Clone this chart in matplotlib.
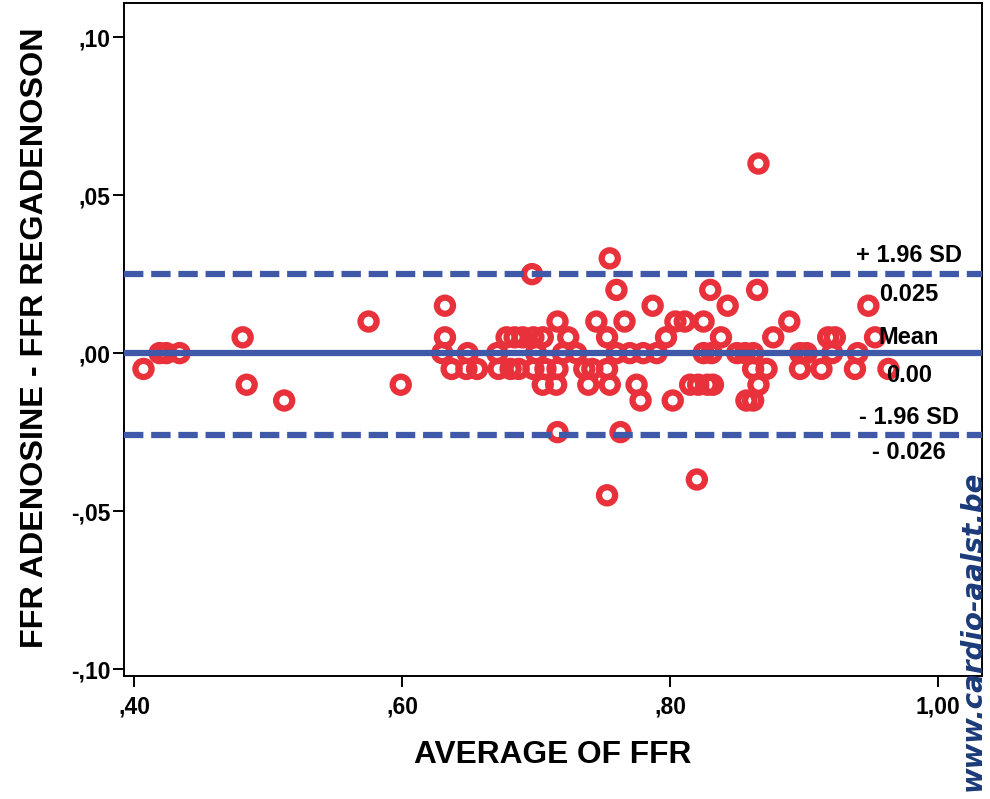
import matplotlib
matplotlib.use("Agg")
import matplotlib.pyplot as plt

# Average of the two FFR measurements (x) and their difference (y)
ffr_avg = [0.407, 0.419, 0.424, 0.434, 0.481, 0.484, 0.512, 0.575, 0.599,
           0.632, 0.632, 0.630, 0.637, 0.649, 0.648, 0.656, 0.671, 0.672,
           0.678, 0.684, 0.690, 0.681, 0.687, 0.698, 0.707, 0.716, 0.700,
           0.698, 0.705, 0.716, 0.724, 0.730, 0.736, 0.742, 0.745, 0.705,
           0.715, 0.739, 0.697, 0.716, 0.866, 0.755, 0.760, 0.787, 0.766,
           0.753, 0.797, 0.804, 0.811, 0.825, 0.830, 0.843, 0.838, 0.865,
           0.877, 0.889, 0.760, 0.770, 0.780, 0.790, 0.825, 0.831, 0.850,
           0.856, 0.862, 0.753, 0.862, 0.872, 0.755, 0.775, 0.815, 0.821,
           0.828, 0.832, 0.866, 0.778, 0.802, 0.857, 0.862, 0.763, 0.820,
           0.753, 0.948, 0.953, 0.918, 0.923, 0.897, 0.902, 0.921, 0.940,
           0.897, 0.913, 0.938, 0.963, 0.720]
ffr_diff = [-0.005, 0.0, 0.0, 0.0, 0.005, -0.01, -0.015, 0.01, -0.01,
            0.015, 0.005, 0.0, -0.005, 0.0, -0.005, -0.005, 0.0, -0.005,
            0.005, 0.005, 0.005, -0.005, -0.005, -0.005, -0.005, -0.005, 0.0,
            0.005, 0.005, 0.01, 0.005, 0.0, -0.005, -0.005, 0.01, -0.01,
            -0.01, -0.01, 0.025, -0.025, 0.06, 0.03, 0.02, 0.015, 0.01,
            0.005, 0.005, 0.01, 0.01, 0.01, 0.02, 0.015, 0.005, 0.02,
            0.005, 0.01, 0.0, 0.0, 0.0, 0.0, 0.0, 0.0, 0.0,
            0.0, 0.0, -0.005, -0.005, -0.005, -0.01, -0.01, -0.01, -0.01,
            -0.01, -0.01, -0.01, -0.015, -0.015, -0.015, -0.015, -0.025, -0.04,
            -0.045, 0.015, 0.005, 0.005, 0.005, 0.0, 0.0, 0.0, 0.0,
            -0.005, -0.005, -0.005, -0.005, 0.0]

mean_diff = 0.0
upper_loa = 0.025
lower_loa = -0.026

x_ticks = [0.40, 0.60, 0.80, 1.00]
x_tick_labels = [',40', ',60', ',80', '1,00']
y_ticks = [-0.10, -0.05, 0.0, 0.05, 0.10]
y_tick_labels = ['-,10', '-,05', ',00', ',05', ',10']

plt.rcParams['font.family'] = ['Liberation Sans', 'DejaVu Sans']
plt.rcParams['font.weight'] = 'bold'

fig = plt.figure(figsize=(9.9, 7.99), dpi=100)
ax = fig.add_axes([0.1253, 0.1539, 0.8666, 0.8423])

red = '#E8313B'
blue = '#3F58A8'

ax.scatter(ffr_avg, ffr_diff, s=135, facecolors='none', edgecolors=red,
           linewidths=4.5, zorder=2)

ax.axhline(mean_diff, color=blue, linewidth=4.5, zorder=3)
for lim in (upper_loa, lower_loa):
    ax.axhline(lim, color=blue, linewidth=4.5, dashes=(3.1, 1.25), zorder=3)

# Labels for the limits of agreement
tx = 0.9784
ax.text(tx, 0.0310, '+ 1.96 SD', ha='center', va='center', fontsize=17)
ax.text(tx, 0.0184, '0.025', ha='center', va='center', fontsize=17)
ax.text(tx, 0.0051, 'Mean', ha='center', va='center', fontsize=17)
ax.text(tx, -0.0070, '0.00', ha='center', va='center', fontsize=17)
ax.text(tx, -0.0203, '- 1.96 SD', ha='center', va='center', fontsize=17)
ax.text(tx, -0.0316, '- 0.026', ha='center', va='center', fontsize=17)

ax.set_xlim(0.3925, 1.0328)
ax.set_ylim(-0.1022, 0.1108)
ax.set_xticks(x_ticks)
ax.set_xticklabels(x_tick_labels)
ax.set_yticks(y_ticks)
ax.set_yticklabels(y_tick_labels)
ax.tick_params(length=8, width=1.4, labelsize=16.5, pad=2)
ax.tick_params(axis='x', pad=6)
for sp in ax.spines.values():
    sp.set_linewidth(1.4)

ax.set_xlabel('AVERAGE OF FFR', fontsize=22.8, fontweight='bold', va='center')
ax.xaxis.set_label_coords(0.5, -0.117)
ax.set_ylabel('FFR ADENOSINE - FFR REGADENOSON', fontsize=23.3,
              fontweight='bold', va='center')
ax.yaxis.set_label_coords(-0.104, 0.502)

# Watermark
fig.text(973 / 990, 1 - 631 / 799, 'www.cardio-aalst.be', rotation=90,
         ha='center', va='center', fontsize=20, fontweight='bold',
         fontstyle='italic', family='DejaVu Sans', color='#1B3A78')

fig.savefig('out.png', dpi=100)
